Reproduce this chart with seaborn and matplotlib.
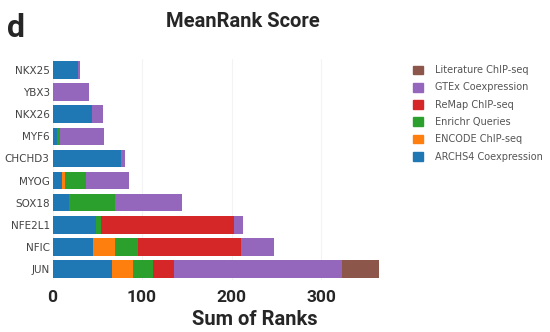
import numpy as np
import pandas as pd
import matplotlib
matplotlib.use('Agg')
import matplotlib.pyplot as plt
import matplotlib.patches as mpatches
import seaborn as sns

# genes, top to bottom
genes = ['NKX25', 'YBX3', 'NKX26', 'MYF6', 'CHCHD3', 'MYOG', 'SOX18', 'NFE2L1', 'NFIC', 'JUN']

# rank contribution of each library (stacked left to right)
archs4 = [28, 0, 44, 5, 77, 11, 18, 49, 45, 66]
encode = [0, 0, 0, 0, 0, 3, 0, 0, 25, 24]
enrichr = [0, 0, 0, 3, 0, 23, 52, 5, 26, 22]
remap = [0, 0, 0, 0, 0, 0, 0, 149, 115, 24]
gtex = [3, 41, 12, 50, 4, 48, 75, 10, 36, 188]
literature = [0, 0, 0, 0, 0, 0, 0, 0, 0, 41]

libraries = ['ARCHS4 Coexpression', 'ENCODE ChIP-seq', 'Enrichr Queries',
             'ReMap ChIP-seq', 'GTEx Coexpression', 'Literature ChIP-seq']
colors = ['#1f77b4', '#ff7f0e', '#2ca02c', '#d62728', '#9467bd', '#8c564b']

df = pd.DataFrame({'gene': genes,
                   libraries[0]: archs4, libraries[1]: encode, libraries[2]: enrichr,
                   libraries[3]: remap, libraries[4]: gtex, libraries[5]: literature})
cum = df[libraries].cumsum(axis=1)
cum['gene'] = genes

sns.set_style('whitegrid')
plt.rcParams['font.family'] = ['DejaVu Sans']

fig = plt.figure(figsize=(5.5, 3.32), dpi=100)
ax = fig.add_axes([0.0955, 0.157, 0.646, 0.665])

# draw cumulative totals back to front so the layers look stacked
for lib, col in reversed(list(zip(libraries, colors))):
    sns.barplot(data=cum, x=lib, y='gene', order=genes, color=col,
                width=0.8, saturation=1, ax=ax, linewidth=0)

ax.set_xlim(0, 397)
ax.set_ylim(9.5, -0.5)
ax.set_xticks([0, 100, 200, 300])
ax.grid(axis='x', color='#f3f3f3', linewidth=0.8)
ax.grid(axis='y', visible=False)
for s in ax.spines.values():
    s.set_visible(False)

ax.tick_params(axis='y', labelsize=7.5, labelcolor='#444444', length=0, pad=2)
ax.tick_params(axis='x', length=0, pad=7)
for lbl in ax.get_xticklabels():
    lbl.set_fontfamily('Roboto')
    lbl.set_fontweight('bold')
    lbl.set_fontsize(12.5)
ax.set_ylabel('')
ax.set_xlabel('Sum of Ranks', fontfamily='Roboto', fontweight='bold', fontsize=14.5)
ax.xaxis.set_label_coords(0.57, -0.135)

fig.text(0.442, 0.935, 'MeanRank Score', ha='center', va='center',
         fontfamily='Roboto', fontweight='bold', fontsize=14.5)
fig.text(0.012, 0.915, 'd', ha='left', va='center',
         fontfamily='Roboto', fontweight='bold', fontsize=23)

handles = [mpatches.Patch(color=c, label=l) for l, c in zip(libraries, colors)][::-1]
leg = fig.legend(handles=handles, loc='upper left', bbox_to_anchor=(0.735, 0.83),
                 frameon=False, fontsize=7, handlelength=1.0, handleheight=1.0,
                 handletextpad=1.3, labelspacing=0.75)
for t in leg.get_texts():
    t.set_color('#555555')

fig.savefig('out.png', dpi=100)
